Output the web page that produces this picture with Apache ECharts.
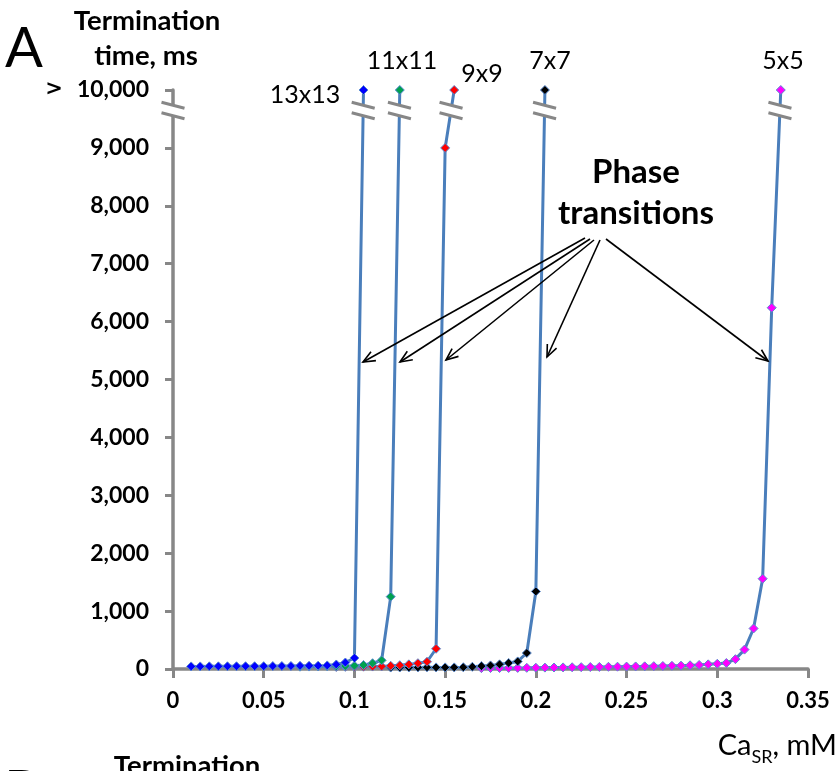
<!DOCTYPE html>
<html>
<head>
<meta charset="utf-8">
<script src="https://cdn.jsdelivr.net/npm/echarts@6/dist/echarts.min.js"></script>
<style>
  html, body { margin: 0; padding: 0; background: #fff; }
  #main { width: 840px; height: 771px; }
</style>
</head>
<body>
<div id="main"></div>
<script>
// CaSR (mM) vs termination time (ms), one series per tissue size
const x13 = [0.01, 0.015, 0.02, 0.025, 0.03, 0.035, 0.04, 0.045, 0.05, 0.055, 0.06, 0.065, 0.07, 0.075, 0.08, 0.085, 0.09, 0.095, 0.1, 0.105];
const y13 = [45, 45, 46, 46, 47, 47, 48, 48, 49, 50, 51, 52, 54, 56, 58, 62, 78, 112, 190, 10000];

const x11 = [0.07, 0.075, 0.08, 0.085, 0.09, 0.095, 0.1, 0.105, 0.11, 0.115, 0.12, 0.125];
const y11 = [40, 42, 44, 46, 48, 52, 57, 69, 100, 150, 1250, 10000];

const x9 = [0.09, 0.095, 0.1, 0.105, 0.11, 0.115, 0.12, 0.125, 0.13, 0.135, 0.14, 0.145, 0.15, 0.155];
const y9 = [35, 37, 38, 40, 42, 45, 55, 65, 80, 100, 125, 350, 9000, 10000];

const x7 = [0.12, 0.125, 0.13, 0.135, 0.14, 0.145, 0.15, 0.155, 0.16, 0.165, 0.17, 0.175, 0.18, 0.185, 0.19, 0.195, 0.2, 0.205];
const y7 = [25, 26, 27, 28, 29, 28, 28, 28, 30, 38, 50, 62, 80, 104, 131, 276, 1340, 10000];

const x5 = [0.17, 0.175, 0.18, 0.185, 0.19, 0.195, 0.2, 0.205, 0.21, 0.215, 0.22, 0.225, 0.23, 0.235, 0.24, 0.245, 0.25, 0.255, 0.26, 0.265, 0.27, 0.275, 0.28, 0.285, 0.29, 0.295, 0.3, 0.305, 0.31, 0.315, 0.32, 0.325, 0.33, 0.335];
const y5 = [15, 16, 17, 18, 19, 20, 22, 24, 26, 28, 30, 32, 34, 36, 38, 40, 42, 44, 46, 49, 52, 55, 58, 64, 70, 80, 90, 103, 170, 335, 700, 1560, 6240, 10000];

const sizeNames = ['5x5', '7x7', '9x9', '11x11', '13x13'];
const markerColors = ['#ff00ff', '#000000', '#ff0000', '#00a050', '#0000ff'];
const yTickLabels = ['0', '1,000', '2,000', '3,000', '4,000', '5,000', '6,000', '7,000', '8,000', '9,000', '10,000'];
const xTickLabels = ['0', '0.05', '0.1', '0.15', '0.2', '0.25', '0.3', '0.35'];

const BREAK_VAL = 9650;
const FONT = 'Lato, "Open Sans", sans-serif';
const AXIS_GRAY = '#878787';

var chartDom = document.getElementById('main');
var myChart = echarts.init(chartDom);

const xs = [x5, x7, x9, x11, x13];
const ys = [y5, y7, y9, y11, y13];

// break marks: where each curve crosses BREAK_VAL on its way to the top, plus the y axis
var breakData = [[0, BREAK_VAL]];
xs.forEach(function (xx, k) {
  var yy = ys[k];
  var n = xx.length;
  var t = (BREAK_VAL - yy[n - 2]) / (yy[n - 1] - yy[n - 2]);
  breakData.push([xx[n - 2] + t * (xx[n - 1] - xx[n - 2]), BREAK_VAL]);
});

var series = xs.map(function (xx, k) {
  return {
    name: sizeNames[k],
    type: 'line',
    data: xx.map(function (x, i) { return [x, ys[k][i]]; }),
    symbol: 'diamond',
    symbolSize: 9,
    clip: false,
    lineStyle: { color: '#4a7ebb', width: 3 },
    itemStyle: { color: markerColors[k], borderColor: '#5b8bd0', borderWidth: 1 },
    emphasis: { disabled: true },
    z: 2 + k
  };
});

series.push({
  type: 'custom',
  data: breakData,
  clip: false,
  z: 20,
  silent: true,
  renderItem: function (params, api) {
    var p = api.coord([api.value(0), api.value(1)]);
    var w = 11.5;
    return {
      type: 'group',
      children: [
        { type: 'polygon', shape: { points: [[p[0] - w, p[1] - 8], [p[0] + w, p[1] - 2], [p[0] + w, p[1] + 8.5], [p[0] - w, p[1] + 2.5]] }, style: { fill: '#fff' } },
        { type: 'line', shape: { x1: p[0] - w, y1: p[1] - 8, x2: p[0] + w, y2: p[1] - 2 }, style: { stroke: AXIS_GRAY, lineWidth: 3 } },
        { type: 'line', shape: { x1: p[0] - w, y1: p[1] + 2.5, x2: p[0] + w, y2: p[1] + 8.5 }, style: { stroke: AXIS_GRAY, lineWidth: 3 } }
      ]
    };
  }
});

// arrows from "Phase transitions" to the curves
function arrow(x1, y1, x2, y2) {
  var a = Math.atan2(y2 - y1, x2 - x1);
  var L = 13, s = 0.4;
  return [
    { type: 'line', shape: { x1: x1, y1: y1, x2: x2, y2: y2 }, style: { stroke: '#000', lineWidth: 1.6 } },
    { type: 'polyline', shape: { points: [
      [x2 - L * Math.cos(a - s), y2 - L * Math.sin(a - s)], [x2, y2],
      [x2 - L * Math.cos(a + s), y2 - L * Math.sin(a + s)]] },
      style: { stroke: '#000', lineWidth: 1.6, fill: null } }
  ];
}
var arrows = [].concat(
  arrow(585, 238, 363, 362),
  arrow(590, 239, 400, 362),
  arrow(594, 240, 446, 360),
  arrow(600, 240, 547, 357),
  arrow(606, 239, 768, 361)
);

function txt(text, x, y, size, weight, align) {
  return { type: 'text', x: x, y: y, z: 30,
    style: { text: text, font: (weight || 'normal') + ' ' + size + 'px ' + FONT, fill: '#000',
      align: align || 'center', verticalAlign: 'middle' } };
}

var option = {
  animation: false,
  grid: { left: 173, right: 32, top: 90, bottom: 102 },
  xAxis: {
    type: 'value', min: 0, max: 0.35, interval: 0.05,
    axisLine: { onZero: false, lineStyle: { color: AXIS_GRAY, width: 3.5 } },
    axisTick: { length: 9, lineStyle: { color: AXIS_GRAY, width: 3 } },
    splitLine: { show: false },
    axisLabel: {
      margin: 21, color: '#000', fontFamily: FONT, fontWeight: 'bold', fontSize: 22,
      formatter: function (v) { return xTickLabels[Math.round(v / 0.05)]; }
    }
  },
  yAxis: {
    type: 'value', min: 0, max: 10000, interval: 1000,
    axisLine: { show: true, onZero: false, lineStyle: { color: AXIS_GRAY, width: 3.5 } },
    axisTick: { show: true, length: 8, lineStyle: { color: AXIS_GRAY, width: 3 } },
    splitLine: { show: false },
    axisLabel: {
      margin: 24, color: '#000', fontFamily: FONT, fontWeight: 'bold', fontSize: 23,
      formatter: function (v) {
        var i = Math.round(v / 1000);
        return i === 10 ? '{g|>}' + yTickLabels[i] : yTickLabels[i];
      },
      rich: {
        g: { fontFamily: '"DejaVu Sans", sans-serif', fontWeight: 'bold', fontSize: 21, color: '#000', padding: [0, 14, 0, 0] }
      }
    }
  },
  graphic: [
    txt('A', 24, 49, 56, 'normal'),
    txt('Termination', 147, 21, 27.5, 'bold'),
    txt('time, ms', 146, 56, 27.5, 'bold'),
    txt('13x13', 305, 95, 25),
    txt('11x11', 402, 61, 25),
    txt('9x9', 482, 74, 25),
    txt('7x7', 550, 61, 25),
    txt('5x5', 783, 61, 25),
    txt('Phase', 636, 172, 33, 'bold'),
    txt('transitions', 636, 213, 33, 'bold'),
    {
      type: 'text', right: 3, top: 731, z: 30,
      style: {
        text: '{a|Ca}{s|SR}{a|, mM}',
        rich: {
          a: { font: 'normal 29px ' + FONT, fill: '#000', verticalAlign: 'bottom' },
          s: { font: 'normal 18px ' + FONT, fill: '#000', padding: [0, 0, -6, 0], verticalAlign: 'bottom' }
        }
      }
    },
    txt('B', 22, 792, 56, 'normal'),
    txt('Termination', 187, 766, 27.5, 'bold')
  ].concat(arrows.map(function (a) { a.z = 25; return a; })),
  series: series
};

option && myChart.setOption(option);
</script>
</body>
</html>
